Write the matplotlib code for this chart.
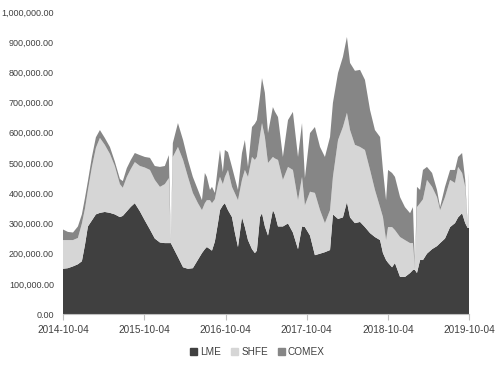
import matplotlib
matplotlib.use("Agg")
import matplotlib.pyplot as plt
import matplotlib.dates as mdates
from matplotlib.ticker import FuncFormatter, MultipleLocator
from matplotlib.patches import Patch
import pandas as pd

plt.rcParams['font.family'] = ['Liberation Sans', 'DejaVu Sans']

dates = [
    "2014-10-04", "2014-10-26", "2014-11-18", "2014-12-10", "2014-12-28", "2015-01-11",
    "2015-01-24", "2015-02-11", "2015-03-01", "2015-03-19", "2015-04-10", "2015-05-03",
    "2015-05-25", "2015-06-17", "2015-06-30", "2015-07-18", "2015-08-05", "2015-08-23",
    "2015-09-15", "2015-10-07", "2015-10-30", "2015-11-21", "2015-12-14", "2016-01-05",
    "2016-01-23", "2016-02-01", "2016-02-10", "2016-03-04", "2016-03-27", "2016-04-18",
    "2016-05-10", "2016-06-02", "2016-06-20", "2016-07-03", "2016-07-12", "2016-07-26",
    "2016-08-04", "2016-08-17", "2016-08-31", "2016-09-09", "2016-09-22", "2016-10-01",
    "2016-10-15", "2016-11-02", "2016-11-15", "2016-11-29", "2016-12-17", "2016-12-30",
    "2017-01-13", "2017-01-31", "2017-02-13", "2017-02-22", "2017-03-08", "2017-03-17",
    "2017-03-30", "2017-04-13", "2017-05-05", "2017-05-14", "2017-05-28", "2017-06-19",
    "2017-07-12", "2017-08-03", "2017-08-26", "2017-09-13", "2017-09-26", "2017-10-19",
    "2017-11-10", "2017-12-03", "2017-12-25", "2018-01-17", "2018-01-30", "2018-02-22",
    "2018-03-16", "2018-04-03", "2018-04-17", "2018-05-09", "2018-06-01", "2018-06-23",
    "2018-07-16", "2018-08-07", "2018-08-30", "2018-09-12", "2018-09-26", "2018-10-05",
    "2018-10-23", "2018-11-05", "2018-11-28", "2018-12-20", "2019-01-12", "2019-01-25",
    "2019-02-03", "2019-02-12", "2019-02-26", "2019-03-11", "2019-03-29", "2019-04-21",
    "2019-05-13", "2019-05-27", "2019-06-18", "2019-07-11", "2019-08-02", "2019-08-16",
    "2019-09-03", "2019-09-17", "2019-09-28", "2019-10-04",
]

# thousand tonnes
lme = [
    150, 152, 158, 165, 175, 230, 290, 310, 330, 335, 338, 335,
    330, 321, 325, 340, 355, 367, 340, 310, 280, 250, 237, 235,
    235, 235, 222, 189, 155, 150, 152, 180, 202, 215, 222, 215,
    210, 240, 301, 344, 360, 367, 344, 321, 270, 222, 321, 288,
    245, 215, 202, 210, 321, 334, 290, 260, 344, 330, 290, 290,
    300, 270, 215, 290, 288, 260, 195, 200, 205, 212, 330, 315,
    320, 371, 320, 301, 305, 288, 268, 255, 245, 202, 179, 170,
    155, 169, 123, 123, 136, 146, 146, 136, 179, 179, 200, 215,
    225, 235, 250, 288, 301, 320, 334, 301, 285, 285,
]
shfe = [
    95, 93, 87, 87, 125, 120, 120, 177, 220, 248, 222, 195,
    160, 109, 93, 114, 125, 136, 150, 175, 197, 194, 184, 195,
    215, 5, 298, 364, 355, 304, 249, 187, 142, 152, 155, 162,
    157, 140, 129, 110, 70, 87, 133, 100, 130, 155, 123, 189,
    209, 305, 308, 310, 269, 298, 296, 240, 176, 185, 220, 154,
    187, 207, 162, 164, 72, 145, 206, 144, 96, 132, 124, 261,
    299, 295, 289, 259, 248, 255, 209, 156, 109, 119, 66, 118,
    133, 109, 132, 122, 99, 89, 4, 218, 188, 201, 244, 206,
    162, 109, 137, 156, 133, 167, 133, 120, 5, 169,
]
comex = [
    35, 27, 25, 38, 30, 35, 30, 33, 35, 26, 23, 23,
    15, 17, 22, 29, 30, 30, 36, 35, 40, 46, 66, 60,
    76, 3, 46, 79, 66, 56, 53, 44, 33, 100, 77, 34,
    54, 21, 60, 89, 40, 89, 59, 66, 50, 34, 89, 99,
    33, 99, 120, 122, 130, 149, 146, 99, 165, 155, 142, 76,
    155, 192, 143, 178, 90, 194, 218, 209, 219, 242, 245, 222,
    232, 251, 222, 245, 255, 232, 198, 198, 232, 156, 132, 189,
    179, 176, 132, 109, 99, 119, 5, 67, 44, 97, 43, 46,
    24, 10, 34, 33, 43, 33, 66, 23, 5, 13,
]

series_names = ["LME", "SHFE", "COMEX"]
series_colors = ["#404040", "#d6d6d6", "#868686"]
x_ticks = ["2014-10-04", "2015-10-04", "2016-10-04", "2017-10-04", "2018-10-04", "2019-10-04"]

x = pd.to_datetime(dates)
vals = [[v * 1000 for v in s] for s in (lme, shfe, comex)]

fig = plt.figure(figsize=(5.0, 3.7), dpi=100)
ax = fig.add_axes([0.126, 0.151, 0.812, 0.817])
ax.stackplot(x, *vals, colors=series_colors, linewidth=0, antialiased=True)

ax.set_ylim(0, 1_000_000)
ax.yaxis.set_major_locator(MultipleLocator(100_000))
ax.yaxis.set_major_formatter(FuncFormatter(lambda v, p: f"{v:,.2f}"))
ax.set_xlim(pd.Timestamp(x_ticks[0]), pd.Timestamp(x_ticks[-1]))
ax.set_xticks(pd.to_datetime(x_ticks))
ax.xaxis.set_major_formatter(mdates.DateFormatter("%Y-%m-%d"))

for s in ["top", "right", "left"]:
    ax.spines[s].set_visible(False)
ax.spines["bottom"].set_color("#bfbfbf")
ax.spines["bottom"].set_linewidth(0.8)
ax.tick_params(axis="y", length=0, pad=6.5, labelsize=6.5, labelcolor="#404040")
ax.tick_params(axis="x", length=4, width=0.8, color="#bfbfbf", pad=4, labelsize=7.2, labelcolor="#404040")

handles = [Patch(facecolor=c, edgecolor=c, label=n) for n, c in zip(series_names, series_colors)]
fig.legend(handles=handles, loc="center", bbox_to_anchor=(0.515, 0.048), ncol=3, frameon=False,
           fontsize=7.2, handlelength=0.7, handleheight=0.7, handletextpad=0.3, columnspacing=1.0,
           labelcolor="#404040")

fig.savefig("out.png", dpi=100)
